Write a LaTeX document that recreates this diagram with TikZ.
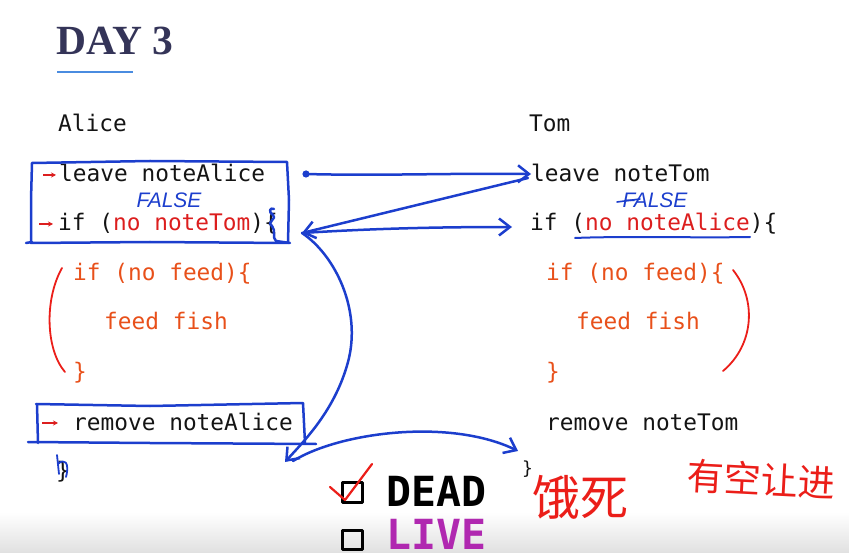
\documentclass[tikz,border=0pt]{standalone}
\usepackage{fontspec}
\setmonofont{DejaVu Sans Mono}
\setmainfont{Liberation Serif}
\newfontfamily\cjk{Noto Sans CJK SC}
\newfontfamily\handfont{Liberation Sans}
\usetikzlibrary{arrows.meta}
\definecolor{pen}{RGB}{28,62,205}
\definecolor{codered}{RGB}{220,30,30}
\definecolor{codeorange}{RGB}{232,80,26}
\definecolor{inkred}{RGB}{235,30,25}
\definecolor{titlecol}{RGB}{52,52,88}
\definecolor{ulblue}{RGB}{74,140,224}
\definecolor{livecol}{RGB}{176,40,176}
\tikzset{
  code/.style={font=\ttfamily\fontsize{22.8}{24}\selectfont, anchor=base west, inner sep=0pt, text=black!92},
  orange/.style={code, text=codeorange},
  penline/.style={draw=pen, line width=2.5pt, line cap=round, line join=round},
  penarrow/.style={penline, -{Straight Barb[length=11pt,width=17pt,line width=2.5pt]}},
  redarrow/.style={draw=codered, line width=1.6pt, -{Stealth[length=5pt,width=5pt]}},
  redpen/.style={draw=inkred, line width=1.8pt, line cap=round, line join=round},
  falsetxt/.style={font=\handfont\itshape\fontsize{21}{21}\selectfont, text=pen, inner sep=0pt},
  big/.style={font=\ttfamily\bfseries\fontsize{41.5}{42}\selectfont, anchor=base west, inner sep=0pt},
  hanzi/.style={font=\cjk, text=inkred, inner sep=0pt}
}
\begin{document}
\begin{tikzpicture}[x=1pt,y=-1pt]
\useasboundingbox (0,0) rectangle (849,553);
\shade[top color=white, bottom color=black!12] (0,512) rectangle (849,553);
% title
\node[font=\bfseries\fontsize{41.5}{42}\selectfont, text=titlecol, anchor=base west, inner sep=0pt] (title) at (56,55) {DAY 3};
\draw[ulblue, line width=2.5pt] (57,72) -- (133,72);
% Alice
\node[code] (alice) at (58,132) {Alice};
\node[code] (aleave) at (59,182) {leave noteAlice};
\node[code] (aif) at (58,231) {if (\textcolor{codered}{no noteTom})\{};
\node[orange] (afeed) at (73,281) {if (no feed)\{};
\node[orange] (afish) at (104,330) {feed fish};
\node[orange] (aclose) at (73,380) {\}};
\node[code] (aremove) at (73,430) {remove noteAlice};
\node[code] (aend) at (56,478) {\}};
% Tom
\node[code] (tom) at (529,132) {Tom};
\node[code] (tleave) at (531,182) {leave noteTom};
\node[code] (tif) at (530,231) {if (\textcolor{codered}{no noteAlice})\{};
\node[orange] (tfeed) at (546,281) {if (no feed)\{};
\node[orange] (tfish) at (576,330) {feed fish};
\node[orange] (tclose) at (546,380) {\}};
\node[code] (tremove) at (546,430) {remove noteTom};
\node[code, font=\ttfamily\fontsize{18}{20}\selectfont] (tend) at (522,474) {\}};
% red arrows
\coordinate (ra1s) at (43,175); \coordinate (ra1e) at (56,175);
\coordinate (ra2s) at (39,224); \coordinate (ra2e) at (53,224);
\coordinate (ra3s) at (42,423); \coordinate (ra3e) at (58,423);
\draw[redarrow] (ra1s) -- (ra1e);
\draw[redarrow] (ra2s) -- (ra2e);
\draw[redarrow] (ra3s) -- (ra3e);
% blue boxes
\draw[penline] (32,163) -- (150,161) -- (287,162) -- (289,200) -- (288,243) -- (150,242) -- (31,243) -- (31,200) -- cycle;
\draw[penline] (26,243) -- (32,242);
\draw[penline] (274,209) .. controls (270,207) and (268,212) .. (273,215) .. controls (278,218) and (266,222) .. (272,226) .. controls (276,230) and (272,238) .. (276,241) -- (290,243);
\draw[penline] (36,404) -- (150,406) -- (303,403) -- (305,443);
\draw[penline] (37,404) -- (38,443);
\draw[penline] (28,442) -- (150,443) -- (316,444);
% FALSE
\node[falsetxt] (afalse) at (169,200) {FALSE};
\node[falsetxt] (tfalse) at (655,200) {FALSE};
\draw[penline, line width=1.6pt] (617,202) -- (640,199);
\draw[penline, line width=2pt] (575,238) .. controls (620,236) and (700,238) .. (750,237);
% blue arrows
\coordinate (dot) at (306,174);
\coordinate (tl) at (531,174);
\coordinate (tlb) at (528,178);
\coordinate (aifr) at (302,233);
\coordinate (tifl) at (512,227);
\coordinate (bot) at (285,462);
\coordinate (bot2) at (293,461);
\coordinate (tendc) at (518,451);
\fill[pen] (dot) circle (3.6pt);
\draw[penarrow] (dot) .. controls (380,176) and (450,173) .. (tl);
\draw[penarrow] (tlb) -- (aifr);
\draw[penarrow] (aifr) .. controls (380,228) and (450,227) .. (tifl);
\draw[penarrow] (aifr) .. controls (335,255) and (362,310) .. (348,362) .. controls (335,410) and (305,440) .. (bot);
\draw[penarrow] (bot2) .. controls (340,432) and (450,418) .. (tendc);
% scribble near Alice end
\draw[penline, line width=1.8pt] (57,455) -- (59,474) (58,464) .. controls (64,458) and (70,462) .. (66,477);
% red parentheses
\draw[redpen] (62,268) .. controls (44,300) and (46,350) .. (65,372);
\draw[redpen] (733,270) .. controls (757,300) and (754,345) .. (723,371);
% DEAD / LIVE
\draw[black, line width=3pt, line join=round] (342,482) rectangle (362,502);
\draw[black, line width=3pt, line join=round] (342,530) rectangle (362,549);
\node[big] (dead) at (386,506) {DEAD};
\node[big, text=livecol] (live) at (386,549) {LIVE};
\draw[redpen, line width=2.2pt] (330,487) -- (345,500) -- (372,464);
% handwritten Chinese
\node[hanzi, font=\cjk\fontsize{48}{48}\selectfont] (starve) at (580,497) {饿死};
\node[hanzi, font=\cjk\fontsize{37}{37}\selectfont, rotate=-3] (bounded) at (761,479) {有空让进};
\end{tikzpicture}
\end{document}
